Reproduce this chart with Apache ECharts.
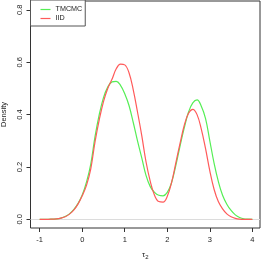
<!DOCTYPE html>
<html><head><meta charset="utf-8">
<script src="https://cdn.jsdelivr.net/npm/echarts@6/dist/echarts.min.js"></script>
<style>html,body{margin:0;padding:0;background:#fff}#c{width:262px;height:262px}</style>
</head><body><div id="c"></div>
<script>
const xs = [-1.0,-0.9,-0.8,-0.7,-0.6,-0.5,-0.4,-0.3,-0.2,-0.1,0.0,0.1,0.2,0.3,0.4,0.5,0.6,0.7,0.8,0.9,1.0,1.1,1.2,1.3,1.4,1.5,1.6,1.7,1.8,1.9,2.0,2.1,2.2,2.3,2.4,2.5,2.6,2.7,2.8,2.9,3.0,3.1,3.2,3.3,3.4,3.5,3.6,3.7,3.8,3.9,4.0];
const tmcmc = [0,0,0,0.001,0.002,0.005,0.011,0.021,0.037,0.060,0.093,0.142,0.210,0.315,0.400,0.465,0.505,0.525,0.527,0.512,0.480,0.435,0.370,0.300,0.235,0.168,0.125,0.103,0.092,0.090,0.103,0.140,0.205,0.280,0.350,0.410,0.445,0.456,0.432,0.385,0.300,0.215,0.145,0.092,0.058,0.034,0.017,0.007,0.002,0.001,0];
const iid = [0,0,0,0.001,0.002,0.005,0.010,0.020,0.035,0.058,0.090,0.130,0.192,0.295,0.380,0.450,0.500,0.535,0.575,0.593,0.590,0.560,0.495,0.410,0.320,0.220,0.145,0.092,0.068,0.066,0.088,0.140,0.215,0.290,0.360,0.405,0.420,0.400,0.345,0.270,0.185,0.115,0.068,0.040,0.021,0.010,0.004,0.001,0,0,0];
const xTicks = [-1,0,1,2,3,4];
const yTicks = [0,0.2,0.4,0.6,0.8];
const seriesNames = ['TMCMC','IID'];

const font = 'Liberation Sans, Arial, sans-serif';
const chart = echarts.init(document.getElementById('c'), null, {renderer:'canvas'});
chart.setOption({
  animation:false,
  backgroundColor:'#fff',
  grid:{left:30.5,right:2,top:1,bottom:34,containLabel:false,outerBoundsMode:'none',show:true,borderColor:'#333',borderWidth:1,backgroundColor:'transparent'},
  legend:{
    data:seriesNames, orient:'vertical', left:30.5, top:0, icon:'rect',
    padding:[5,3,3,10], itemGap:0, itemWidth:10, itemHeight:1.2,
    borderColor:'#555', borderWidth:1, backgroundColor:'#fff',
    textStyle:{fontFamily:font,fontSize:7.2,color:'#222',lineHeight:9}
  },
  xAxis:{type:'value',min:-1.216,max:4.18,
    axisLine:{show:false,onZero:false},splitLine:{show:false},
    axisTick:{show:true,inside:false,length:4,lineStyle:{color:'#333'},customValues:xTicks},
    axisLabel:{customValues:xTicks,fontFamily:font,fontSize:7.5,color:'#222',margin:8},
    name:'{a|τ}{b|2}',nameLocation:'middle',nameGap:22,
    nameTextStyle:{rich:{a:{fontFamily:font,fontSize:8,color:'#222'},b:{fontFamily:font,fontSize:6,color:'#222',verticalAlign:'bottom',padding:[4,0,0,0]}}}
  },
  yAxis:{type:'value',min:-0.033,max:0.834,
    axisLine:{show:false,onZero:false},splitLine:{show:false},
    axisTick:{show:true,inside:false,length:4,lineStyle:{color:'#333'},customValues:yTicks},
    axisLabel:{customValues:yTicks,rotate:90,formatter:v=>v.toFixed(1),fontFamily:font,fontSize:7.5,color:'#222',margin:7},
    name:'Density',nameLocation:'middle',nameGap:20,
    nameTextStyle:{fontFamily:font,fontSize:7.5,color:'#222'}
  },
  series:[
    {name:seriesNames[0],type:'line',data:xs.map((x,i)=>[x,tmcmc[i]]),symbol:'none',smooth:0.4,
     lineStyle:{color:'#55ee55',width:1.2},itemStyle:{color:'#55ee55'},z:2,
     markLine:{silent:true,symbol:'none',label:{show:false},lineStyle:{color:'#dcdcdc',width:1,type:'solid'},data:[{yAxis:0}],z:1}},
    {name:seriesNames[1],type:'line',data:xs.map((x,i)=>[x,iid[i]]),symbol:'none',smooth:0.4,
     lineStyle:{color:'#ff5a5a',width:1.2},itemStyle:{color:'#ff5a5a'},z:3}
  ]
});
</script></body></html>
